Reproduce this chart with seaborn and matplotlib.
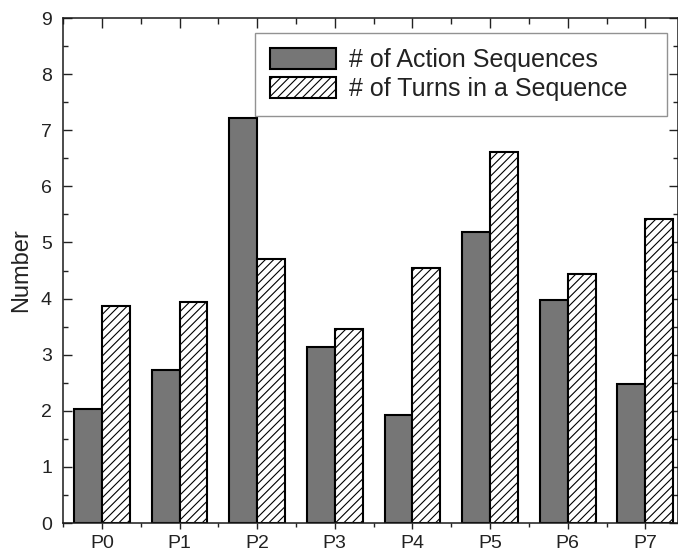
import pandas as pd
import matplotlib
matplotlib.use('Agg')
import matplotlib.pyplot as plt
import seaborn as sns
from matplotlib.ticker import MultipleLocator

# 数据
participants = ['P0', 'P1', 'P2', 'P3', 'P4', 'P5', 'P6', 'P7']
action_seqs = [2.03, 2.72, 7.22, 3.14, 1.93, 5.19, 3.97, 2.48]
turns_per_seq = [3.86, 3.94, 4.71, 3.46, 4.54, 6.62, 4.43, 5.42]
series_names = ['# of Action Sequences', '# of Turns in a Sequence']

df = pd.DataFrame({
    'participant': participants * 2,
    'value': action_seqs + turns_per_seq,
    'series': [series_names[0]] * len(participants) + [series_names[1]] * len(participants),
})

sns.set_style('ticks')
plt.rcParams['font.family'] = ['Liberation Sans', 'DejaVu Sans']
plt.rcParams['hatch.linewidth'] = 0.8

fig = plt.figure(figsize=(6.78, 5.53), dpi=100)
ax = fig.add_axes([0.093, 0.0542, 0.907, 0.9132])

sns.barplot(data=df, x='participant', y='value', hue='series',
            palette=['#767676', 'white'], width=0.72, saturation=1,
            edgecolor='black', linewidth=1.5, ax=ax, legend=False)

# 第二组加斜线
for p in ax.containers[1]:
    p.set_hatch('////')

ax.set_xlim(-0.5, 7.42)
ax.set_ylim(0, 9)
ax.yaxis.set_major_locator(MultipleLocator(1))
ax.yaxis.set_minor_locator(MultipleLocator(0.5))
ax.xaxis.set_minor_locator(MultipleLocator(0.5))
for sp in ax.spines.values():
    sp.set_visible(True)
    sp.set_linewidth(1.1)
    sp.set_color('#1a1a1a')

ax.tick_params(axis='y', which='both', direction='in', left=True, right=True,
               labelsize=14, colors='#222222', width=1.0)
ax.tick_params(axis='y', which='major', length=6.5, pad=8)
ax.tick_params(axis='y', which='minor', length=3.5)
ax.tick_params(axis='x', which='both', direction='out', bottom=True, top=False,
               labelsize=14, colors='#222222', width=1.0)
ax.tick_params(axis='x', which='major', length=4.5, pad=4)
ax.tick_params(axis='x', which='minor', length=3)

# 上边框的内向刻度
top = ax.secondary_xaxis('top')
top.set_xticks(range(len(participants)))
top.xaxis.set_minor_locator(MultipleLocator(0.5))
top.tick_params(which='both', direction='in', labeltop=False, width=1.0, color='#222222')
top.tick_params(which='major', length=7)
top.tick_params(which='minor', length=4)
top.spines['top'].set_visible(False)

ax.set_xlabel('')
ax.set_ylabel('Number', fontsize=17, color='#222222', labelpad=6)

handles = [ax.containers[0][0], ax.containers[1][0]]
leg = ax.legend(handles, series_names, loc='upper left',
                bbox_to_anchor=(0.312, 0.824, 0.67, 0.146), mode='expand',
                borderaxespad=0, fontsize=18, frameon=True, fancybox=False,
                handlelength=2.65, handleheight=0.9, handletextpad=0.5,
                borderpad=0.6, labelspacing=0.2)
leg.get_frame().set_edgecolor('#777777')
leg.get_frame().set_linewidth(1.0)
for t in leg.get_texts():
    t.set_color('#222222')

fig.savefig('out.png', dpi=100)
